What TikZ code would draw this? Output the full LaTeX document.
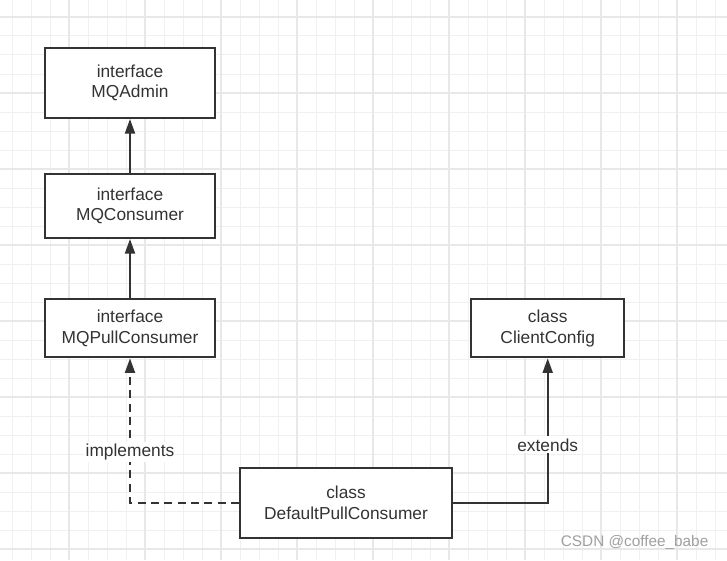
\documentclass[tikz,border=0pt]{standalone}
\usepackage{fontspec}
\setmainfont{Liberation Sans}
\usetikzlibrary{arrows.meta}
\definecolor{inkgray}{HTML}{333333}
\definecolor{gridminor}{HTML}{F0F0F0}
\definecolor{gridmajor}{HTML}{E8E8E8}
\definecolor{markgray}{HTML}{A0A0A0}

\begin{document}
\begin{tikzpicture}[x=0.75pt, y=-0.75pt, >={Triangle[length=11pt, width=7.5pt]},
    umlbox/.style={rectangle, draw=inkgray, line width=1.5pt, fill=white, text=inkgray, align=center,
      font=\fontsize{13}{15.5}\selectfont},
    rel/.style={inkgray, line width=1.5pt},
    rellabel/.style={fill=white, text=inkgray, font=\fontsize{13}{15}\selectfont, inner sep=1.5pt}]
      \useasboundingbox (0,0) rectangle (727,560);
      % Background grid
      \fill[white] (0,0) rectangle (727,560);
      \foreach \gx in {12,31,...,727} \draw[gridminor, line width=0.75pt] (\gx,0) -- (\gx,560);
      \foreach \gy in {-2,17,...,560} \draw[gridminor, line width=0.75pt] (0,\gy) -- (727,\gy);
      \foreach \gx in {69,145,...,727} \draw[gridmajor, line width=1.2pt] (\gx,0) -- (\gx,560);
      \foreach \gy in {17,93,...,560} \draw[gridmajor, line width=1.2pt] (0,\gy) -- (727,\gy);

      % Interfaces
      \node[umlbox, minimum width=127.5pt, minimum height=52.5pt] (admin) at (130,83) {interface\\MQAdmin};
      \node[umlbox, minimum width=127.5pt, minimum height=48pt] (consumer) at (130,206) {interface\\MQConsumer};
      \node[umlbox, minimum width=127.5pt, minimum height=43.5pt] (pull) at (130,328.3) {interface\\MQPullConsumer};

      % Classes
      \node[umlbox, minimum width=115pt, minimum height=43.5pt] (config) at (547.7,328.3) {class\\ClientConfig};
      \node[umlbox, minimum width=159pt, minimum height=52.5pt] (defpull) at (346,502.5) {class\\DefaultPullConsumer};

      % Inheritance
      \draw[rel, ->] (consumer) -- (admin);
      \draw[rel, ->] (pull) -- (consumer);
      \draw[rel, ->, dash pattern=on 6pt off 4pt] (defpull.west) -| node[rellabel, pos=0.676] {implements} (pull.south);
      \draw[rel, ->] (defpull.east) -| node[rellabel, pos=0.70] {extends} (config.south);

      % Watermark
      \node[text=markgray, font=\fontsize{11.5}{13}\selectfont, anchor=east] (mark) at (713,542) {CSDN @coffee\_babe};
    \end{tikzpicture}
\end{document}
